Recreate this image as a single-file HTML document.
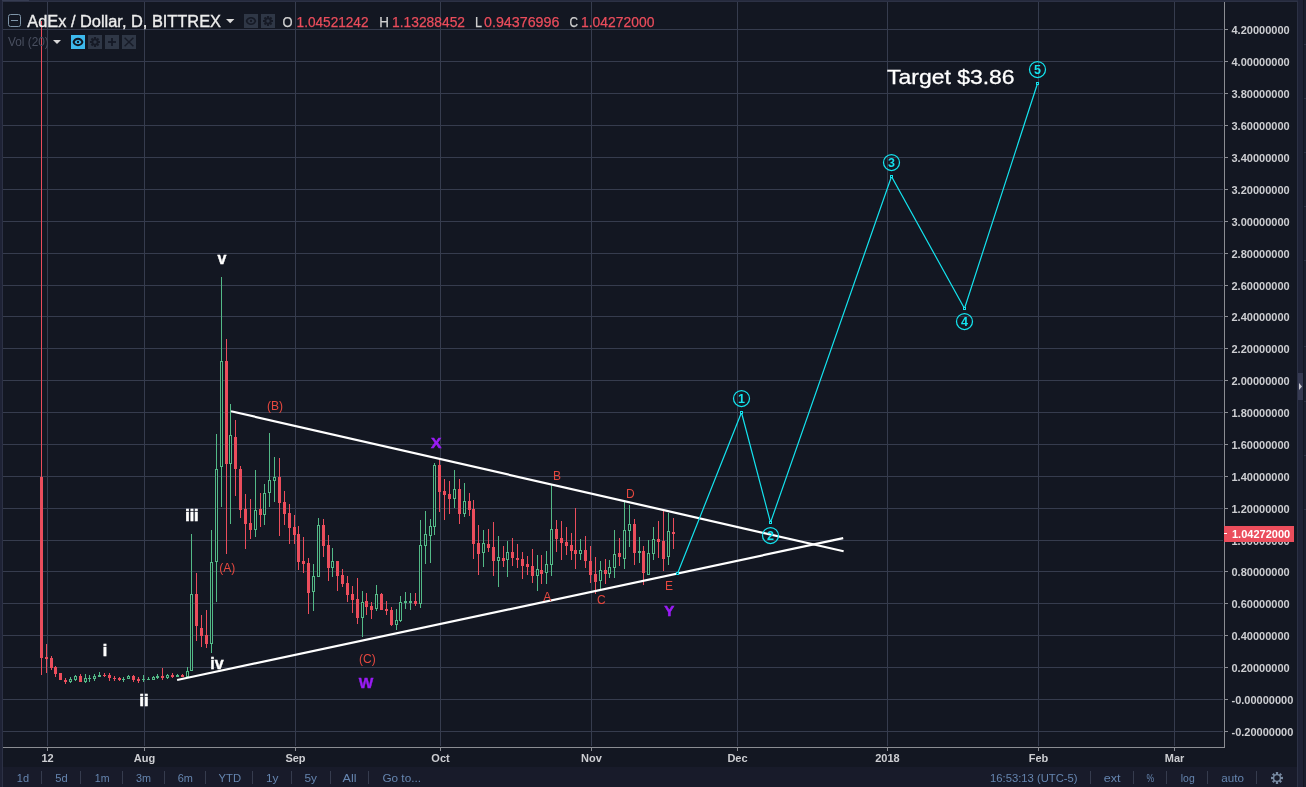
<!DOCTYPE html>
<html><head><meta charset="utf-8"><title>AdEx / Dollar</title>
<style>
html,body{margin:0;padding:0;background:#131722;}
body{width:1306px;height:787px;position:relative;overflow:hidden;font-family:"Liberation Sans",sans-serif;}
#wrap{left:0;top:0;width:1306px;height:787px;will-change:transform;transform:translateZ(0);}
div{position:absolute;box-sizing:border-box;}
.al{left:1231.5px;width:66px;height:13px;line-height:13px;font-size:11px;font-weight:bold;color:#cdced2;white-space:nowrap;}
.tk{left:1225px;width:3px;height:1px;background:#8b8d93;}
.tm{top:752px;width:61px;text-align:center;height:13px;line-height:13px;font-size:11px;font-weight:bold;color:#cdced2;}
.tt{top:748px;width:1px;height:3px;background:#8b8d93;}
.bt{top:771px;height:14px;line-height:14px;font-size:12px;color:#6a89ad;white-space:nowrap;}
.sp{top:770px;width:1px;height:15px;background:#363c4e;}
.lg{white-space:nowrap;}
</style></head><body><div id="wrap">
<svg width="1306" height="787" viewBox="0 0 1306 787" style="position:absolute;left:0;top:0" shape-rendering="crispEdges">
<rect x="3" y="29" width="1220" height="1" fill="#363c4e"/>
<rect x="3" y="61" width="1220" height="1" fill="#363c4e"/>
<rect x="3" y="93" width="1220" height="1" fill="#363c4e"/>
<rect x="3" y="125" width="1220" height="1" fill="#363c4e"/>
<rect x="3" y="157" width="1220" height="1" fill="#363c4e"/>
<rect x="3" y="189" width="1220" height="1" fill="#363c4e"/>
<rect x="3" y="221" width="1220" height="1" fill="#363c4e"/>
<rect x="3" y="253" width="1220" height="1" fill="#363c4e"/>
<rect x="3" y="285" width="1220" height="1" fill="#363c4e"/>
<rect x="3" y="316" width="1220" height="1" fill="#363c4e"/>
<rect x="3" y="348" width="1220" height="1" fill="#363c4e"/>
<rect x="3" y="380" width="1220" height="1" fill="#363c4e"/>
<rect x="3" y="412" width="1220" height="1" fill="#363c4e"/>
<rect x="3" y="444" width="1220" height="1" fill="#363c4e"/>
<rect x="3" y="476" width="1220" height="1" fill="#363c4e"/>
<rect x="3" y="508" width="1220" height="1" fill="#363c4e"/>
<rect x="3" y="540" width="1220" height="1" fill="#363c4e"/>
<rect x="3" y="571" width="1220" height="1" fill="#363c4e"/>
<rect x="3" y="603" width="1220" height="1" fill="#363c4e"/>
<rect x="3" y="635" width="1220" height="1" fill="#363c4e"/>
<rect x="3" y="667" width="1220" height="1" fill="#363c4e"/>
<rect x="3" y="699" width="1220" height="1" fill="#363c4e"/>
<rect x="3" y="731" width="1220" height="1" fill="#363c4e"/>
<rect x="47" y="2" width="1" height="744" fill="#363c4e"/>
<rect x="144" y="2" width="1" height="744" fill="#363c4e"/>
<rect x="295" y="2" width="1" height="744" fill="#363c4e"/>
<rect x="440" y="2" width="1" height="744" fill="#363c4e"/>
<rect x="591" y="2" width="1" height="744" fill="#363c4e"/>
<rect x="737" y="2" width="1" height="744" fill="#363c4e"/>
<rect x="887" y="2" width="1" height="744" fill="#363c4e"/>
<rect x="1038" y="2" width="1" height="744" fill="#363c4e"/>
<rect x="1174" y="2" width="1" height="744" fill="#363c4e"/>
<rect x="41" y="21" width="1" height="654" fill="#eb4d5c"/>
<rect x="40" y="477" width="3" height="181" fill="#eb4d5c"/>
<rect x="46" y="644" width="1" height="29" fill="#eb4d5c"/>
<rect x="45" y="657" width="3" height="2" fill="#eb4d5c"/>
<rect x="51" y="656" width="1" height="14" fill="#eb4d5c"/>
<rect x="50" y="658" width="3" height="10" fill="#eb4d5c"/>
<rect x="55" y="666" width="1" height="11" fill="#eb4d5c"/>
<rect x="54" y="667" width="3" height="7" fill="#eb4d5c"/>
<rect x="60" y="673" width="1" height="7" fill="#eb4d5c"/>
<rect x="59" y="673" width="3" height="7" fill="#eb4d5c"/>
<rect x="65" y="678" width="1" height="6" fill="#eb4d5c"/>
<rect x="64" y="680" width="3" height="2" fill="#eb4d5c"/>
<rect x="70" y="677" width="1" height="6" fill="#53b987"/>
<rect x="69" y="679" width="3" height="3" fill="#53b987"/>
<rect x="70" y="680" width="1" height="1" fill="#131722"/>
<rect x="75" y="675" width="1" height="6" fill="#53b987"/>
<rect x="74" y="676" width="3" height="4" fill="#53b987"/>
<rect x="75" y="677" width="1" height="2" fill="#131722"/>
<rect x="80" y="674" width="1" height="8" fill="#eb4d5c"/>
<rect x="79" y="676" width="3" height="6" fill="#eb4d5c"/>
<rect x="85" y="674" width="1" height="9" fill="#53b987"/>
<rect x="84" y="678" width="3" height="4" fill="#53b987"/>
<rect x="85" y="679" width="1" height="2" fill="#131722"/>
<rect x="89" y="675" width="1" height="7" fill="#53b987"/>
<rect x="88" y="678" width="3" height="1" fill="#53b987"/>
<rect x="94" y="674" width="1" height="7" fill="#53b987"/>
<rect x="93" y="676" width="3" height="3" fill="#53b987"/>
<rect x="94" y="677" width="1" height="1" fill="#131722"/>
<rect x="99" y="672" width="1" height="5" fill="#53b987"/>
<rect x="98" y="675" width="3" height="2" fill="#53b987"/>
<rect x="104" y="673" width="1" height="4" fill="#eb4d5c"/>
<rect x="103" y="675" width="3" height="1" fill="#eb4d5c"/>
<rect x="109" y="673" width="1" height="8" fill="#eb4d5c"/>
<rect x="108" y="675" width="3" height="3" fill="#eb4d5c"/>
<rect x="114" y="676" width="1" height="5" fill="#eb4d5c"/>
<rect x="113" y="678" width="3" height="1" fill="#eb4d5c"/>
<rect x="119" y="677" width="1" height="4" fill="#eb4d5c"/>
<rect x="118" y="678" width="3" height="2" fill="#eb4d5c"/>
<rect x="123" y="677" width="1" height="5" fill="#53b987"/>
<rect x="122" y="679" width="3" height="1" fill="#53b987"/>
<rect x="128" y="675" width="1" height="4" fill="#53b987"/>
<rect x="127" y="676" width="3" height="3" fill="#53b987"/>
<rect x="128" y="677" width="1" height="1" fill="#131722"/>
<rect x="133" y="675" width="1" height="7" fill="#eb4d5c"/>
<rect x="132" y="676" width="3" height="4" fill="#eb4d5c"/>
<rect x="138" y="677" width="1" height="6" fill="#eb4d5c"/>
<rect x="137" y="679" width="3" height="2" fill="#eb4d5c"/>
<rect x="143" y="675" width="1" height="7" fill="#53b987"/>
<rect x="142" y="679" width="3" height="1" fill="#53b987"/>
<rect x="148" y="677" width="1" height="3" fill="#53b987"/>
<rect x="147" y="679" width="3" height="1" fill="#53b987"/>
<rect x="153" y="676" width="1" height="4" fill="#53b987"/>
<rect x="152" y="677" width="3" height="3" fill="#53b987"/>
<rect x="153" y="678" width="1" height="1" fill="#131722"/>
<rect x="157" y="674" width="1" height="5" fill="#53b987"/>
<rect x="156" y="676" width="3" height="2" fill="#53b987"/>
<rect x="162" y="668" width="1" height="12" fill="#eb4d5c"/>
<rect x="161" y="676" width="3" height="2" fill="#eb4d5c"/>
<rect x="167" y="674" width="1" height="5" fill="#53b987"/>
<rect x="166" y="675" width="3" height="3" fill="#53b987"/>
<rect x="167" y="676" width="1" height="1" fill="#131722"/>
<rect x="172" y="673" width="1" height="5" fill="#eb4d5c"/>
<rect x="171" y="675" width="3" height="2" fill="#eb4d5c"/>
<rect x="177" y="674" width="1" height="3" fill="#53b987"/>
<rect x="176" y="675" width="3" height="2" fill="#53b987"/>
<rect x="182" y="674" width="1" height="3" fill="#eb4d5c"/>
<rect x="181" y="675" width="3" height="2" fill="#eb4d5c"/>
<rect x="187" y="667" width="1" height="10" fill="#53b987"/>
<rect x="186" y="671" width="3" height="6" fill="#53b987"/>
<rect x="187" y="672" width="1" height="4" fill="#131722"/>
<rect x="191" y="534" width="1" height="137" fill="#53b987"/>
<rect x="190" y="594" width="3" height="77" fill="#53b987"/>
<rect x="191" y="595" width="1" height="75" fill="#131722"/>
<rect x="196" y="573" width="1" height="68" fill="#eb4d5c"/>
<rect x="195" y="594" width="3" height="32" fill="#eb4d5c"/>
<rect x="201" y="615" width="1" height="32" fill="#eb4d5c"/>
<rect x="200" y="628" width="3" height="8" fill="#eb4d5c"/>
<rect x="206" y="610" width="1" height="38" fill="#eb4d5c"/>
<rect x="205" y="635" width="3" height="9" fill="#eb4d5c"/>
<rect x="211" y="530" width="1" height="123" fill="#53b987"/>
<rect x="210" y="562" width="3" height="82" fill="#53b987"/>
<rect x="211" y="563" width="1" height="80" fill="#131722"/>
<rect x="216" y="434" width="1" height="168" fill="#53b987"/>
<rect x="215" y="469" width="3" height="93" fill="#53b987"/>
<rect x="216" y="470" width="1" height="91" fill="#131722"/>
<rect x="221" y="277" width="1" height="230" fill="#53b987"/>
<rect x="220" y="361" width="3" height="106" fill="#53b987"/>
<rect x="221" y="362" width="1" height="104" fill="#131722"/>
<rect x="226" y="339" width="1" height="215" fill="#eb4d5c"/>
<rect x="225" y="361" width="3" height="103" fill="#eb4d5c"/>
<rect x="230" y="404" width="1" height="120" fill="#53b987"/>
<rect x="229" y="435" width="3" height="29" fill="#53b987"/>
<rect x="230" y="436" width="1" height="27" fill="#131722"/>
<rect x="235" y="420" width="1" height="76" fill="#eb4d5c"/>
<rect x="234" y="437" width="3" height="32" fill="#eb4d5c"/>
<rect x="240" y="466" width="1" height="52" fill="#eb4d5c"/>
<rect x="239" y="469" width="3" height="41" fill="#eb4d5c"/>
<rect x="245" y="494" width="1" height="55" fill="#eb4d5c"/>
<rect x="244" y="509" width="3" height="15" fill="#eb4d5c"/>
<rect x="250" y="499" width="1" height="40" fill="#eb4d5c"/>
<rect x="249" y="523" width="3" height="7" fill="#eb4d5c"/>
<rect x="255" y="470" width="1" height="67" fill="#53b987"/>
<rect x="254" y="510" width="3" height="20" fill="#53b987"/>
<rect x="255" y="511" width="1" height="18" fill="#131722"/>
<rect x="260" y="493" width="1" height="34" fill="#eb4d5c"/>
<rect x="259" y="509" width="3" height="6" fill="#eb4d5c"/>
<rect x="264" y="484" width="1" height="41" fill="#53b987"/>
<rect x="263" y="493" width="3" height="22" fill="#53b987"/>
<rect x="264" y="494" width="1" height="20" fill="#131722"/>
<rect x="269" y="433" width="1" height="74" fill="#53b987"/>
<rect x="268" y="480" width="3" height="13" fill="#53b987"/>
<rect x="269" y="481" width="1" height="11" fill="#131722"/>
<rect x="274" y="457" width="1" height="45" fill="#53b987"/>
<rect x="273" y="477" width="3" height="4" fill="#53b987"/>
<rect x="274" y="478" width="1" height="2" fill="#131722"/>
<rect x="279" y="458" width="1" height="78" fill="#eb4d5c"/>
<rect x="278" y="477" width="3" height="26" fill="#eb4d5c"/>
<rect x="284" y="491" width="1" height="34" fill="#eb4d5c"/>
<rect x="283" y="502" width="3" height="12" fill="#eb4d5c"/>
<rect x="289" y="504" width="1" height="40" fill="#eb4d5c"/>
<rect x="288" y="513" width="3" height="15" fill="#eb4d5c"/>
<rect x="294" y="515" width="1" height="29" fill="#eb4d5c"/>
<rect x="293" y="527" width="3" height="8" fill="#eb4d5c"/>
<rect x="298" y="526" width="1" height="44" fill="#eb4d5c"/>
<rect x="297" y="534" width="3" height="28" fill="#eb4d5c"/>
<rect x="303" y="537" width="1" height="36" fill="#eb4d5c"/>
<rect x="302" y="561" width="3" height="3" fill="#eb4d5c"/>
<rect x="308" y="558" width="1" height="56" fill="#eb4d5c"/>
<rect x="307" y="563" width="3" height="30" fill="#eb4d5c"/>
<rect x="313" y="564" width="1" height="47" fill="#53b987"/>
<rect x="312" y="576" width="3" height="16" fill="#53b987"/>
<rect x="313" y="577" width="1" height="14" fill="#131722"/>
<rect x="318" y="518" width="1" height="59" fill="#53b987"/>
<rect x="317" y="525" width="3" height="52" fill="#53b987"/>
<rect x="318" y="526" width="1" height="50" fill="#131722"/>
<rect x="323" y="519" width="1" height="38" fill="#eb4d5c"/>
<rect x="322" y="525" width="3" height="21" fill="#eb4d5c"/>
<rect x="328" y="535" width="1" height="46" fill="#eb4d5c"/>
<rect x="327" y="545" width="3" height="23" fill="#eb4d5c"/>
<rect x="332" y="548" width="1" height="29" fill="#53b987"/>
<rect x="331" y="561" width="3" height="7" fill="#53b987"/>
<rect x="332" y="562" width="1" height="5" fill="#131722"/>
<rect x="337" y="561" width="1" height="30" fill="#eb4d5c"/>
<rect x="336" y="561" width="3" height="15" fill="#eb4d5c"/>
<rect x="342" y="569" width="1" height="18" fill="#eb4d5c"/>
<rect x="341" y="575" width="3" height="9" fill="#eb4d5c"/>
<rect x="347" y="576" width="1" height="26" fill="#eb4d5c"/>
<rect x="346" y="583" width="3" height="12" fill="#eb4d5c"/>
<rect x="352" y="586" width="1" height="27" fill="#eb4d5c"/>
<rect x="351" y="594" width="3" height="6" fill="#eb4d5c"/>
<rect x="357" y="578" width="1" height="46" fill="#eb4d5c"/>
<rect x="356" y="599" width="3" height="19" fill="#eb4d5c"/>
<rect x="362" y="591" width="1" height="46" fill="#53b987"/>
<rect x="361" y="602" width="3" height="16" fill="#53b987"/>
<rect x="362" y="603" width="1" height="14" fill="#131722"/>
<rect x="366" y="593" width="1" height="22" fill="#eb4d5c"/>
<rect x="365" y="601" width="3" height="6" fill="#eb4d5c"/>
<rect x="371" y="602" width="1" height="17" fill="#eb4d5c"/>
<rect x="370" y="606" width="3" height="4" fill="#eb4d5c"/>
<rect x="376" y="585" width="1" height="26" fill="#53b987"/>
<rect x="375" y="594" width="3" height="15" fill="#53b987"/>
<rect x="376" y="595" width="1" height="13" fill="#131722"/>
<rect x="381" y="593" width="1" height="17" fill="#eb4d5c"/>
<rect x="380" y="594" width="3" height="16" fill="#eb4d5c"/>
<rect x="386" y="601" width="1" height="14" fill="#eb4d5c"/>
<rect x="385" y="609" width="3" height="2" fill="#eb4d5c"/>
<rect x="391" y="607" width="1" height="19" fill="#eb4d5c"/>
<rect x="390" y="610" width="3" height="15" fill="#eb4d5c"/>
<rect x="396" y="609" width="1" height="21" fill="#53b987"/>
<rect x="395" y="620" width="3" height="5" fill="#53b987"/>
<rect x="396" y="621" width="1" height="3" fill="#131722"/>
<rect x="400" y="596" width="1" height="26" fill="#53b987"/>
<rect x="399" y="602" width="3" height="19" fill="#53b987"/>
<rect x="400" y="603" width="1" height="17" fill="#131722"/>
<rect x="405" y="592" width="1" height="17" fill="#53b987"/>
<rect x="404" y="601" width="3" height="2" fill="#53b987"/>
<rect x="410" y="593" width="1" height="17" fill="#53b987"/>
<rect x="409" y="601" width="3" height="2" fill="#53b987"/>
<rect x="415" y="593" width="1" height="13" fill="#eb4d5c"/>
<rect x="414" y="601" width="3" height="3" fill="#eb4d5c"/>
<rect x="420" y="520" width="1" height="88" fill="#53b987"/>
<rect x="419" y="545" width="3" height="59" fill="#53b987"/>
<rect x="420" y="546" width="1" height="57" fill="#131722"/>
<rect x="425" y="511" width="1" height="53" fill="#53b987"/>
<rect x="424" y="534" width="3" height="12" fill="#53b987"/>
<rect x="425" y="535" width="1" height="10" fill="#131722"/>
<rect x="430" y="519" width="1" height="44" fill="#53b987"/>
<rect x="429" y="526" width="3" height="10" fill="#53b987"/>
<rect x="430" y="527" width="1" height="8" fill="#131722"/>
<rect x="434" y="463" width="1" height="72" fill="#53b987"/>
<rect x="433" y="465" width="3" height="62" fill="#53b987"/>
<rect x="434" y="466" width="1" height="60" fill="#131722"/>
<rect x="439" y="460" width="1" height="52" fill="#eb4d5c"/>
<rect x="438" y="465" width="3" height="27" fill="#eb4d5c"/>
<rect x="444" y="479" width="1" height="41" fill="#eb4d5c"/>
<rect x="443" y="491" width="3" height="4" fill="#eb4d5c"/>
<rect x="449" y="481" width="1" height="33" fill="#eb4d5c"/>
<rect x="448" y="494" width="3" height="5" fill="#eb4d5c"/>
<rect x="454" y="470" width="1" height="38" fill="#53b987"/>
<rect x="453" y="489" width="3" height="10" fill="#53b987"/>
<rect x="454" y="490" width="1" height="8" fill="#131722"/>
<rect x="459" y="479" width="1" height="45" fill="#eb4d5c"/>
<rect x="458" y="489" width="3" height="25" fill="#eb4d5c"/>
<rect x="464" y="483" width="1" height="34" fill="#53b987"/>
<rect x="463" y="501" width="3" height="13" fill="#53b987"/>
<rect x="464" y="502" width="1" height="11" fill="#131722"/>
<rect x="469" y="493" width="1" height="23" fill="#eb4d5c"/>
<rect x="468" y="501" width="3" height="9" fill="#eb4d5c"/>
<rect x="473" y="500" width="1" height="59" fill="#eb4d5c"/>
<rect x="472" y="509" width="3" height="35" fill="#eb4d5c"/>
<rect x="478" y="525" width="1" height="50" fill="#eb4d5c"/>
<rect x="477" y="543" width="3" height="11" fill="#eb4d5c"/>
<rect x="483" y="530" width="1" height="37" fill="#53b987"/>
<rect x="482" y="543" width="3" height="10" fill="#53b987"/>
<rect x="483" y="544" width="1" height="8" fill="#131722"/>
<rect x="488" y="529" width="1" height="23" fill="#eb4d5c"/>
<rect x="487" y="544" width="3" height="4" fill="#eb4d5c"/>
<rect x="493" y="522" width="1" height="54" fill="#eb4d5c"/>
<rect x="492" y="547" width="3" height="14" fill="#eb4d5c"/>
<rect x="498" y="536" width="1" height="51" fill="#53b987"/>
<rect x="497" y="557" width="3" height="4" fill="#53b987"/>
<rect x="498" y="558" width="1" height="2" fill="#131722"/>
<rect x="503" y="546" width="1" height="21" fill="#eb4d5c"/>
<rect x="502" y="558" width="3" height="3" fill="#eb4d5c"/>
<rect x="507" y="541" width="1" height="36" fill="#53b987"/>
<rect x="506" y="552" width="3" height="8" fill="#53b987"/>
<rect x="507" y="553" width="1" height="6" fill="#131722"/>
<rect x="512" y="538" width="1" height="28" fill="#eb4d5c"/>
<rect x="511" y="552" width="3" height="6" fill="#eb4d5c"/>
<rect x="517" y="544" width="1" height="24" fill="#eb4d5c"/>
<rect x="516" y="558" width="3" height="2" fill="#eb4d5c"/>
<rect x="522" y="552" width="1" height="27" fill="#eb4d5c"/>
<rect x="521" y="559" width="3" height="7" fill="#eb4d5c"/>
<rect x="527" y="556" width="1" height="19" fill="#eb4d5c"/>
<rect x="526" y="564" width="3" height="3" fill="#eb4d5c"/>
<rect x="532" y="549" width="1" height="34" fill="#eb4d5c"/>
<rect x="531" y="566" width="3" height="10" fill="#eb4d5c"/>
<rect x="537" y="555" width="1" height="36" fill="#53b987"/>
<rect x="536" y="569" width="3" height="7" fill="#53b987"/>
<rect x="537" y="570" width="1" height="5" fill="#131722"/>
<rect x="541" y="555" width="1" height="29" fill="#eb4d5c"/>
<rect x="540" y="570" width="3" height="4" fill="#eb4d5c"/>
<rect x="546" y="551" width="1" height="33" fill="#53b987"/>
<rect x="545" y="564" width="3" height="9" fill="#53b987"/>
<rect x="546" y="565" width="1" height="7" fill="#131722"/>
<rect x="551" y="485" width="1" height="91" fill="#53b987"/>
<rect x="550" y="529" width="3" height="36" fill="#53b987"/>
<rect x="551" y="530" width="1" height="34" fill="#131722"/>
<rect x="556" y="520" width="1" height="32" fill="#eb4d5c"/>
<rect x="555" y="529" width="3" height="10" fill="#eb4d5c"/>
<rect x="561" y="521" width="1" height="39" fill="#eb4d5c"/>
<rect x="560" y="538" width="3" height="5" fill="#eb4d5c"/>
<rect x="566" y="527" width="1" height="28" fill="#eb4d5c"/>
<rect x="565" y="542" width="3" height="4" fill="#eb4d5c"/>
<rect x="571" y="533" width="1" height="27" fill="#eb4d5c"/>
<rect x="570" y="545" width="3" height="6" fill="#eb4d5c"/>
<rect x="575" y="508" width="1" height="61" fill="#eb4d5c"/>
<rect x="574" y="550" width="3" height="4" fill="#eb4d5c"/>
<rect x="580" y="539" width="1" height="21" fill="#53b987"/>
<rect x="579" y="550" width="3" height="4" fill="#53b987"/>
<rect x="580" y="551" width="1" height="2" fill="#131722"/>
<rect x="585" y="536" width="1" height="32" fill="#eb4d5c"/>
<rect x="584" y="550" width="3" height="11" fill="#eb4d5c"/>
<rect x="590" y="546" width="1" height="37" fill="#eb4d5c"/>
<rect x="589" y="561" width="3" height="14" fill="#eb4d5c"/>
<rect x="595" y="557" width="1" height="37" fill="#eb4d5c"/>
<rect x="594" y="574" width="3" height="8" fill="#eb4d5c"/>
<rect x="600" y="561" width="1" height="28" fill="#53b987"/>
<rect x="599" y="570" width="3" height="11" fill="#53b987"/>
<rect x="600" y="571" width="1" height="9" fill="#131722"/>
<rect x="605" y="559" width="1" height="25" fill="#eb4d5c"/>
<rect x="604" y="570" width="3" height="4" fill="#eb4d5c"/>
<rect x="609" y="560" width="1" height="18" fill="#53b987"/>
<rect x="608" y="567" width="3" height="7" fill="#53b987"/>
<rect x="609" y="568" width="1" height="5" fill="#131722"/>
<rect x="614" y="530" width="1" height="48" fill="#53b987"/>
<rect x="613" y="554" width="3" height="14" fill="#53b987"/>
<rect x="614" y="555" width="1" height="12" fill="#131722"/>
<rect x="619" y="538" width="1" height="28" fill="#eb4d5c"/>
<rect x="618" y="553" width="3" height="4" fill="#eb4d5c"/>
<rect x="624" y="500" width="1" height="69" fill="#53b987"/>
<rect x="623" y="530" width="3" height="29" fill="#53b987"/>
<rect x="624" y="531" width="1" height="27" fill="#131722"/>
<rect x="629" y="505" width="1" height="42" fill="#53b987"/>
<rect x="628" y="524" width="3" height="7" fill="#53b987"/>
<rect x="629" y="525" width="1" height="5" fill="#131722"/>
<rect x="634" y="519" width="1" height="46" fill="#eb4d5c"/>
<rect x="633" y="524" width="3" height="29" fill="#eb4d5c"/>
<rect x="639" y="537" width="1" height="26" fill="#53b987"/>
<rect x="638" y="551" width="3" height="2" fill="#53b987"/>
<rect x="643" y="546" width="1" height="39" fill="#eb4d5c"/>
<rect x="642" y="551" width="3" height="22" fill="#eb4d5c"/>
<rect x="648" y="540" width="1" height="35" fill="#53b987"/>
<rect x="647" y="553" width="3" height="22" fill="#53b987"/>
<rect x="648" y="554" width="1" height="20" fill="#131722"/>
<rect x="653" y="527" width="1" height="33" fill="#53b987"/>
<rect x="652" y="539" width="3" height="15" fill="#53b987"/>
<rect x="653" y="540" width="1" height="13" fill="#131722"/>
<rect x="658" y="521" width="1" height="37" fill="#eb4d5c"/>
<rect x="657" y="539" width="3" height="3" fill="#eb4d5c"/>
<rect x="663" y="510" width="1" height="61" fill="#eb4d5c"/>
<rect x="662" y="541" width="3" height="18" fill="#eb4d5c"/>
<rect x="668" y="513" width="1" height="52" fill="#53b987"/>
<rect x="667" y="531" width="3" height="26" fill="#53b987"/>
<rect x="668" y="532" width="1" height="24" fill="#131722"/>
<rect x="673" y="518" width="1" height="31" fill="#eb4d5c"/>
<rect x="672" y="532" width="3" height="2" fill="#eb4d5c"/>
</svg>
<svg width="1306" height="787" viewBox="0 0 1306 787" style="position:absolute;left:0;top:0">
<line x1="231.0" y1="411.25" x2="843.6" y2="551.2" stroke="#fff" stroke-width="2.2"/>
<line x1="177.1" y1="680.0" x2="843.2" y2="538.2" stroke="#fff" stroke-width="2.2"/>
<polyline fill="none" stroke="#14e3ee" stroke-width="1.2" points="677.5,573.5 741.5,412.5 770.5,522.5 891.5,176.5 964.5,308.5 1037.5,83.5"/>
<rect x="676.5" y="572.5" width="2" height="2" fill="#131722" stroke="#14e3ee" stroke-width="1" shape-rendering="crispEdges"/>
<rect x="740.5" y="411.5" width="2" height="2" fill="#131722" stroke="#14e3ee" stroke-width="1" shape-rendering="crispEdges"/>
<rect x="769.5" y="521.5" width="2" height="2" fill="#131722" stroke="#14e3ee" stroke-width="1" shape-rendering="crispEdges"/>
<rect x="890.5" y="175.5" width="2" height="2" fill="#131722" stroke="#14e3ee" stroke-width="1" shape-rendering="crispEdges"/>
<rect x="963.5" y="307.5" width="2" height="2" fill="#131722" stroke="#14e3ee" stroke-width="1" shape-rendering="crispEdges"/>
<rect x="1036.5" y="82.5" width="2" height="2" fill="#131722" stroke="#14e3ee" stroke-width="1" shape-rendering="crispEdges"/>
<circle cx="741.5" cy="398.5" r="8" fill="none" stroke="#14e3ee" stroke-width="1.25"/>
<text x="741.5" y="403.0" text-anchor="middle" font-family="Liberation Sans, sans-serif" font-weight="bold" font-size="12.5" fill="#14e3ee">1</text>
<circle cx="770.5" cy="535.5" r="8" fill="none" stroke="#14e3ee" stroke-width="1.25"/>
<text x="770.5" y="540.0" text-anchor="middle" font-family="Liberation Sans, sans-serif" font-weight="bold" font-size="12.5" fill="#14e3ee">2</text>
<circle cx="891.5" cy="162.5" r="8" fill="none" stroke="#14e3ee" stroke-width="1.25"/>
<text x="891.5" y="167.0" text-anchor="middle" font-family="Liberation Sans, sans-serif" font-weight="bold" font-size="12.5" fill="#14e3ee">3</text>
<circle cx="964.5" cy="321.5" r="8" fill="none" stroke="#14e3ee" stroke-width="1.25"/>
<text x="964.5" y="326.0" text-anchor="middle" font-family="Liberation Sans, sans-serif" font-weight="bold" font-size="12.5" fill="#14e3ee">4</text>
<circle cx="1037.5" cy="69.5" r="8" fill="none" stroke="#14e3ee" stroke-width="1.25"/>
<text x="1037.5" y="74.0" text-anchor="middle" font-family="Liberation Sans, sans-serif" font-weight="bold" font-size="12.5" fill="#14e3ee">5</text>
<text transform="translate(227.2,571.8) scale(1.0,1)" text-anchor="middle" font-family="Liberation Sans, sans-serif" font-weight="normal" font-size="12" fill="#e6483f">(A)</text>
<text transform="translate(274.9,410.2) scale(1.0,1)" text-anchor="middle" font-family="Liberation Sans, sans-serif" font-weight="normal" font-size="12" fill="#e6483f">(B)</text>
<text transform="translate(367.3,663.1) scale(1.0,1)" text-anchor="middle" font-family="Liberation Sans, sans-serif" font-weight="normal" font-size="12" fill="#e6483f">(C)</text>
<text transform="translate(547.2,600.9) scale(1.0,1)" text-anchor="middle" font-family="Liberation Sans, sans-serif" font-weight="normal" font-size="12" fill="#e6483f">A</text>
<text transform="translate(557,479.9) scale(1.0,1)" text-anchor="middle" font-family="Liberation Sans, sans-serif" font-weight="normal" font-size="12" fill="#e6483f">B</text>
<text transform="translate(601.3,604) scale(1.0,1)" text-anchor="middle" font-family="Liberation Sans, sans-serif" font-weight="normal" font-size="12" fill="#e6483f">C</text>
<text transform="translate(630.4,498) scale(1.0,1)" text-anchor="middle" font-family="Liberation Sans, sans-serif" font-weight="normal" font-size="12" fill="#e6483f">D</text>
<text transform="translate(669,590) scale(1.0,1)" text-anchor="middle" font-family="Liberation Sans, sans-serif" font-weight="normal" font-size="12" fill="#e6483f">E</text>
<text transform="translate(366,687.9) scale(1.1,1)" text-anchor="middle" font-family="Liberation Sans, sans-serif" font-weight="bold" font-size="14" fill="#9a1cf5" stroke="#9a1cf5" stroke-width="0.4">W</text>
<text transform="translate(436.3,447.8) scale(1.12,1)" text-anchor="middle" font-family="Liberation Sans, sans-serif" font-weight="bold" font-size="14" fill="#9a1cf5" stroke="#9a1cf5" stroke-width="0.5">X</text>
<text transform="translate(669.4,615.8) scale(1.08,1)" text-anchor="middle" font-family="Liberation Sans, sans-serif" font-weight="bold" font-size="14" fill="#9a1cf5" stroke="#9a1cf5" stroke-width="0.5">Y</text>
<text transform="translate(104.9,656.1) scale(1.0,1)" text-anchor="middle" font-family="Liberation Sans, sans-serif" font-weight="bold" font-size="16" fill="#fff" stroke="#fff" stroke-width="0.6">i</text>
<text transform="translate(144,706) scale(1.0,1)" text-anchor="middle" font-family="Liberation Sans, sans-serif" font-weight="bold" font-size="16" fill="#fff" stroke="#fff" stroke-width="0.6">ii</text>
<text transform="translate(191.9,520.7) scale(1.0,1)" text-anchor="middle" font-family="Liberation Sans, sans-serif" font-weight="bold" font-size="16" fill="#fff" stroke="#fff" stroke-width="0.6">iii</text>
<text transform="translate(217,668.6) scale(1.0,1)" text-anchor="middle" font-family="Liberation Sans, sans-serif" font-weight="bold" font-size="16" fill="#fff" stroke="#fff" stroke-width="0.4">iv</text>
<text transform="translate(221.9,264) scale(1.0,1)" text-anchor="middle" font-family="Liberation Sans, sans-serif" font-weight="bold" font-size="16" fill="#fff" stroke="#fff" stroke-width="0.4">v</text>
<text x="887" y="84.1" font-family="Liberation Sans, sans-serif" font-size="21" fill="#fff" stroke="#fff" stroke-width="0.3" textLength="127.6" lengthAdjust="spacingAndGlyphs">Target $3.86</text>
</svg>
<!-- axes -->
<div style="left:1224px;top:2px;width:1px;height:746px;background:#8b8d93"></div>
<div style="left:3px;top:747px;width:1222px;height:1px;background:#8b8d93"></div>
<div class="al" style="top:24px">4.20000000</div>
<div class="tk" style="top:29px"></div>
<div class="al" style="top:56px">4.00000000</div>
<div class="tk" style="top:61px"></div>
<div class="al" style="top:88px">3.80000000</div>
<div class="tk" style="top:93px"></div>
<div class="al" style="top:120px">3.60000000</div>
<div class="tk" style="top:125px"></div>
<div class="al" style="top:152px">3.40000000</div>
<div class="tk" style="top:157px"></div>
<div class="al" style="top:184px">3.20000000</div>
<div class="tk" style="top:189px"></div>
<div class="al" style="top:216px">3.00000000</div>
<div class="tk" style="top:221px"></div>
<div class="al" style="top:248px">2.80000000</div>
<div class="tk" style="top:253px"></div>
<div class="al" style="top:280px">2.60000000</div>
<div class="tk" style="top:285px"></div>
<div class="al" style="top:311px">2.40000000</div>
<div class="tk" style="top:316px"></div>
<div class="al" style="top:343px">2.20000000</div>
<div class="tk" style="top:348px"></div>
<div class="al" style="top:375px">2.00000000</div>
<div class="tk" style="top:380px"></div>
<div class="al" style="top:407px">1.80000000</div>
<div class="tk" style="top:412px"></div>
<div class="al" style="top:439px">1.60000000</div>
<div class="tk" style="top:444px"></div>
<div class="al" style="top:471px">1.40000000</div>
<div class="tk" style="top:476px"></div>
<div class="al" style="top:503px">1.20000000</div>
<div class="tk" style="top:508px"></div>
<div class="al" style="top:535px">1.00000000</div>
<div class="tk" style="top:540px"></div>
<div class="al" style="top:566px">0.80000000</div>
<div class="tk" style="top:571px"></div>
<div class="al" style="top:598px">0.60000000</div>
<div class="tk" style="top:603px"></div>
<div class="al" style="top:630px">0.40000000</div>
<div class="tk" style="top:635px"></div>
<div class="al" style="top:662px">0.20000000</div>
<div class="tk" style="top:667px"></div>
<div class="al" style="top:694px">-0.00000000</div>
<div class="tk" style="top:699px"></div>
<div class="al" style="top:726px">-0.20000000</div>
<div class="tk" style="top:731px"></div>
<div class="tm" style="left:17px">12</div>
<div class="tt" style="left:47px"></div>
<div class="tm" style="left:114px">Aug</div>
<div class="tt" style="left:144px"></div>
<div class="tm" style="left:265px">Sep</div>
<div class="tt" style="left:295px"></div>
<div class="tm" style="left:410px">Oct</div>
<div class="tt" style="left:440px"></div>
<div class="tm" style="left:561px">Nov</div>
<div class="tt" style="left:591px"></div>
<div class="tm" style="left:707px">Dec</div>
<div class="tt" style="left:737px"></div>
<div class="tm" style="left:857px">2018</div>
<div class="tt" style="left:887px"></div>
<div class="tm" style="left:1008px">Feb</div>
<div class="tt" style="left:1038px"></div>
<div class="tm" style="left:1144px">Mar</div>
<div class="tt" style="left:1174px"></div>
<!-- price label -->
<div style="left:1224px;top:526px;width:70px;height:16px;background:#eb4d5c"></div>
<div style="left:1224px;top:533px;width:3px;height:1px;background:#fff"></div>
<div class="al" style="top:528px;left:1232px;color:#fff">1.04272000</div>
<svg width="1306" height="787" viewBox="0 0 1306 787" style="position:absolute;left:0;top:0">
<rect x="3" y="767" width="1294" height="20" fill="#181b2a"/>
<text x="16.8" y="782" font-family='"Liberation Sans", sans-serif' font-size="11.5" font-weight="normal" fill="#6585af" textLength="12.2" lengthAdjust="spacingAndGlyphs">1d</text>
<text x="55.3" y="782" font-family='"Liberation Sans", sans-serif' font-size="11.5" font-weight="normal" fill="#6585af" textLength="12.4" lengthAdjust="spacingAndGlyphs">5d</text>
<text x="94.8" y="782" font-family='"Liberation Sans", sans-serif' font-size="11.5" font-weight="normal" fill="#6585af" textLength="14.7" lengthAdjust="spacingAndGlyphs">1m</text>
<text x="136" y="782" font-family='"Liberation Sans", sans-serif' font-size="11.5" font-weight="normal" fill="#6585af" textLength="15" lengthAdjust="spacingAndGlyphs">3m</text>
<text x="177.7" y="782" font-family='"Liberation Sans", sans-serif' font-size="11.5" font-weight="normal" fill="#6585af" textLength="15.2" lengthAdjust="spacingAndGlyphs">6m</text>
<text x="218.5" y="782" font-family='"Liberation Sans", sans-serif' font-size="11.5" font-weight="normal" fill="#6585af" textLength="22.5" lengthAdjust="spacingAndGlyphs">YTD</text>
<text x="266" y="782" font-family='"Liberation Sans", sans-serif' font-size="11.5" font-weight="normal" fill="#6585af" textLength="12.5" lengthAdjust="spacingAndGlyphs">1y</text>
<text x="304.5" y="782" font-family='"Liberation Sans", sans-serif' font-size="11.5" font-weight="normal" fill="#6585af" textLength="12.5" lengthAdjust="spacingAndGlyphs">5y</text>
<text x="342.5" y="782" font-family='"Liberation Sans", sans-serif' font-size="11.5" font-weight="normal" fill="#6585af" textLength="14.0" lengthAdjust="spacingAndGlyphs">All</text>
<text x="382.4" y="782" font-family='"Liberation Sans", sans-serif' font-size="11.5" font-weight="normal" fill="#6585af" textLength="38.6" lengthAdjust="spacingAndGlyphs">Go to...</text>
<text x="990" y="782" font-family='"Liberation Sans", sans-serif' font-size="11.5" font-weight="normal" fill="#6585af" textLength="87.6" lengthAdjust="spacingAndGlyphs">16:53:13 (UTC-5)</text>
<text x="1103.7" y="782" font-family='"Liberation Sans", sans-serif' font-size="11.5" font-weight="normal" fill="#6585af" textLength="16.8" lengthAdjust="spacingAndGlyphs">ext</text>
<text x="1146.6" y="782" font-family='"Liberation Sans", sans-serif' font-size="11.5" font-weight="normal" fill="#6585af" textLength="7.6" lengthAdjust="spacingAndGlyphs">%</text>
<text x="1180.8" y="782" font-family='"Liberation Sans", sans-serif' font-size="11.5" font-weight="normal" fill="#6585af" textLength="13.9" lengthAdjust="spacingAndGlyphs">log</text>
<text x="1221.3" y="782" font-family='"Liberation Sans", sans-serif' font-size="11.5" font-weight="normal" fill="#6585af" textLength="22.7" lengthAdjust="spacingAndGlyphs">auto</text>
<rect x="41" y="771" width="1" height="13" fill="#363c4e"/>
<rect x="80" y="771" width="1" height="13" fill="#363c4e"/>
<rect x="122" y="771" width="1" height="13" fill="#363c4e"/>
<rect x="164" y="771" width="1" height="13" fill="#363c4e"/>
<rect x="205" y="771" width="1" height="13" fill="#363c4e"/>
<rect x="252" y="771" width="1" height="13" fill="#363c4e"/>
<rect x="291" y="771" width="1" height="13" fill="#363c4e"/>
<rect x="330" y="771" width="1" height="13" fill="#363c4e"/>
<rect x="368" y="771" width="1" height="13" fill="#363c4e"/>
<rect x="1090" y="771" width="1" height="13" fill="#363c4e"/>
<rect x="1133" y="771" width="1" height="13" fill="#363c4e"/>
<rect x="1166" y="771" width="1" height="13" fill="#363c4e"/>
<rect x="1207" y="771" width="1" height="13" fill="#363c4e"/>
<rect x="1256" y="771" width="1" height="13" fill="#363c4e"/>
<path d="M1281.07,776.96 L1282.98,776.79 L1282.98,779.21 L1281.07,779.04 L1280.61,780.14 L1282.08,781.37 L1280.37,783.08 L1279.14,781.61 L1278.04,782.07 L1278.21,783.98 L1275.79,783.98 L1275.96,782.07 L1274.86,781.61 L1273.63,783.08 L1271.92,781.37 L1273.39,780.14 L1272.93,779.04 L1271.02,779.21 L1271.02,776.79 L1272.93,776.96 L1273.39,775.86 L1271.92,774.63 L1273.63,772.92 L1274.86,774.39 L1275.96,773.93 L1275.79,772.02 L1278.21,772.02 L1278.04,773.93 L1279.14,774.39 L1280.37,772.92 L1282.08,774.63 L1280.61,775.86Z M1279.7,778 A2.7,2.7 0 1,0 1274.3,778 A2.7,2.7 0 1,0 1279.7,778Z" fill="#788ba3" fill-rule="evenodd"/>
<rect x="8.5" y="14.5" width="12" height="12" rx="2" fill="none" stroke="#7f95a8" stroke-width="1"/>
<rect x="11" y="20" width="7" height="1" fill="#7f95a8"/>
<text x="27.3" y="26.7" font-family='"Liberation Sans", sans-serif' font-size="16" font-weight="normal" fill="#ececec" textLength="193.7" lengthAdjust="spacingAndGlyphs" stroke="#ececec" stroke-width="0.35">AdEx / Dollar, D, BITTREX</text>
<path d="M226,19 L234.4,19 L230.2,23.2 Z" fill="#dcdcdc"/>
<rect x="244" y="14" width="14" height="14" fill="#2f3746"/>
<rect x="261" y="14" width="14" height="14" fill="#2f3746"/>
<path d="M246.5,21 C248.2,16.7 253.8,16.7 255.5,21 C253.8,25.3 248.2,25.3 246.5,21Z" fill="none" stroke="#161a26" stroke-width="1.6" stroke-linejoin="round"/><circle cx="251" cy="21" r="1.15" fill="#161a26"/>
<path d="M271.56,20.00 L272.98,19.89 L272.98,22.11 L271.56,22.00 L271.23,22.81 L272.31,23.73 L270.73,25.31 L269.81,24.23 L269.00,24.56 L269.11,25.98 L266.89,25.98 L267.00,24.56 L266.19,24.23 L265.27,25.31 L263.69,23.73 L264.77,22.81 L264.44,22.00 L263.02,22.11 L263.02,19.89 L264.44,20.00 L264.77,19.19 L263.69,18.27 L265.27,16.69 L266.19,17.77 L267.00,17.44 L266.89,16.02 L269.11,16.02 L269.00,17.44 L269.81,17.77 L270.73,16.69 L272.31,18.27 L271.23,19.19Z M269.7,21 A1.7,1.7 0 1,0 266.3,21 A1.7,1.7 0 1,0 269.7,21Z" fill="#161a26" fill-rule="evenodd"/>
<text x="282.6" y="26.5" font-family='"Liberation Sans", sans-serif' font-size="15" font-weight="normal" fill="#d0d0d0" textLength="10.1" lengthAdjust="spacingAndGlyphs" stroke="#d0d0d0" stroke-width="0.25">O</text>
<text x="296.6" y="26.5" font-family='"Liberation Sans", sans-serif' font-size="15" font-weight="normal" fill="#eb4d5c" textLength="71.9" lengthAdjust="spacingAndGlyphs" stroke="#eb4d5c" stroke-width="0.25">1.04521242</text>
<text x="379.3" y="26.5" font-family='"Liberation Sans", sans-serif' font-size="15" font-weight="normal" fill="#d0d0d0" textLength="9.7" lengthAdjust="spacingAndGlyphs" stroke="#d0d0d0" stroke-width="0.25">H</text>
<text x="392" y="26.5" font-family='"Liberation Sans", sans-serif' font-size="15" font-weight="normal" fill="#eb4d5c" textLength="73" lengthAdjust="spacingAndGlyphs" stroke="#eb4d5c" stroke-width="0.25">1.13288452</text>
<text x="475" y="26.5" font-family='"Liberation Sans", sans-serif' font-size="15" font-weight="normal" fill="#d0d0d0" textLength="7" lengthAdjust="spacingAndGlyphs" stroke="#d0d0d0" stroke-width="0.25">L</text>
<text x="484" y="26.5" font-family='"Liberation Sans", sans-serif' font-size="15" font-weight="normal" fill="#eb4d5c" textLength="75.4" lengthAdjust="spacingAndGlyphs" stroke="#eb4d5c" stroke-width="0.25">0.94376996</text>
<text x="569.5" y="26.5" font-family='"Liberation Sans", sans-serif' font-size="15" font-weight="normal" fill="#d0d0d0" textLength="8.5" lengthAdjust="spacingAndGlyphs" stroke="#d0d0d0" stroke-width="0.25">C</text>
<text x="581" y="26.5" font-family='"Liberation Sans", sans-serif' font-size="15" font-weight="normal" fill="#eb4d5c" textLength="73.4" lengthAdjust="spacingAndGlyphs" stroke="#eb4d5c" stroke-width="0.25">1.04272000</text>
<text x="8" y="45.9" font-family='"Liberation Sans", sans-serif' font-size="12" font-weight="normal" fill="#4a5060" textLength="40.8" lengthAdjust="spacingAndGlyphs">Vol (20)</text>
<path d="M53,40 L61,40 L57,44 Z" fill="#d8d8d8"/>
<rect x="71" y="35" width="14" height="14" fill="#3db9ec"/>
<path d="M73.5,42 C75.2,37.7 80.8,37.7 82.5,42 C80.8,46.3 75.2,46.3 73.5,42Z" fill="none" stroke="#10141e" stroke-width="1.9" stroke-linejoin="round"/><circle cx="78" cy="42" r="1.15" fill="#10141e"/>
<rect x="88" y="35" width="14" height="14" fill="#2f3746"/>
<rect x="105" y="35" width="14" height="14" fill="#2f3746"/>
<rect x="122" y="35" width="14" height="14" fill="#2f3746"/>
<path d="M98.56,41.00 L99.98,40.89 L99.98,43.11 L98.56,43.00 L98.23,43.81 L99.31,44.73 L97.73,46.31 L96.81,45.23 L96.00,45.56 L96.11,46.98 L93.89,46.98 L94.00,45.56 L93.19,45.23 L92.27,46.31 L90.69,44.73 L91.77,43.81 L91.44,43.00 L90.02,43.11 L90.02,40.89 L91.44,41.00 L91.77,40.19 L90.69,39.27 L92.27,37.69 L93.19,38.77 L94.00,38.44 L93.89,37.02 L96.11,37.02 L96.00,38.44 L96.81,38.77 L97.73,37.69 L99.31,39.27 L98.23,40.19Z M96.7,42 A1.7,1.7 0 1,0 93.3,42 A1.7,1.7 0 1,0 96.7,42Z" fill="#161a26" fill-rule="evenodd"/>
<rect x="108" y="41.1" width="8" height="1.8" fill="#161a26"/><rect x="111.1" y="38" width="1.8" height="8" fill="#161a26"/>
<path d="M124.6,37.8 L133.4,46.2 M133.4,37.8 L124.6,46.2" stroke="#161a26" stroke-width="1.4" fill="none"/>
<rect x="0" y="0" width="2" height="787" fill="#1e2235"/>
<rect x="2" y="1" width="1" height="786" fill="#2c3145"/>
<rect x="2" y="0" width="1296" height="1" fill="#252a3d"/>
<rect x="2" y="0" width="27" height="1" fill="#363c52"/>
<rect x="2" y="1" width="1296" height="1" fill="#2c3145"/>
<rect x="1297" y="1" width="1" height="786" fill="#2c3145"/>
<rect x="1298" y="0" width="5" height="787" fill="#1e2235"/>
<rect x="1298" y="373" width="5" height="27" fill="#363a52"/>
<path d="M1299,383 L1302,386.5 L1299,390 Z" fill="#c8c8d0"/>
<rect x="1303" y="0" width="1" height="787" fill="#131722"/>
<rect x="1304" y="0" width="2" height="787" fill="#1a1e2e"/>
<rect x="1304" y="44" width="2" height="1" fill="#2c3145"/>
<rect x="1304" y="98" width="2" height="1" fill="#2c3145"/>
<rect x="1304" y="152" width="2" height="1" fill="#2c3145"/>
<rect x="1304" y="206" width="2" height="1" fill="#2c3145"/>
<rect x="1304" y="260" width="2" height="1" fill="#2c3145"/>
<rect x="1304" y="346" width="2" height="1" fill="#2c3145"/>
<rect x="1304" y="401" width="2" height="1" fill="#2c3145"/>
<rect x="1304" y="455" width="2" height="1" fill="#2c3145"/>
<rect x="1304" y="509" width="2" height="1" fill="#2c3145"/>
</svg>


</div></body></html>
